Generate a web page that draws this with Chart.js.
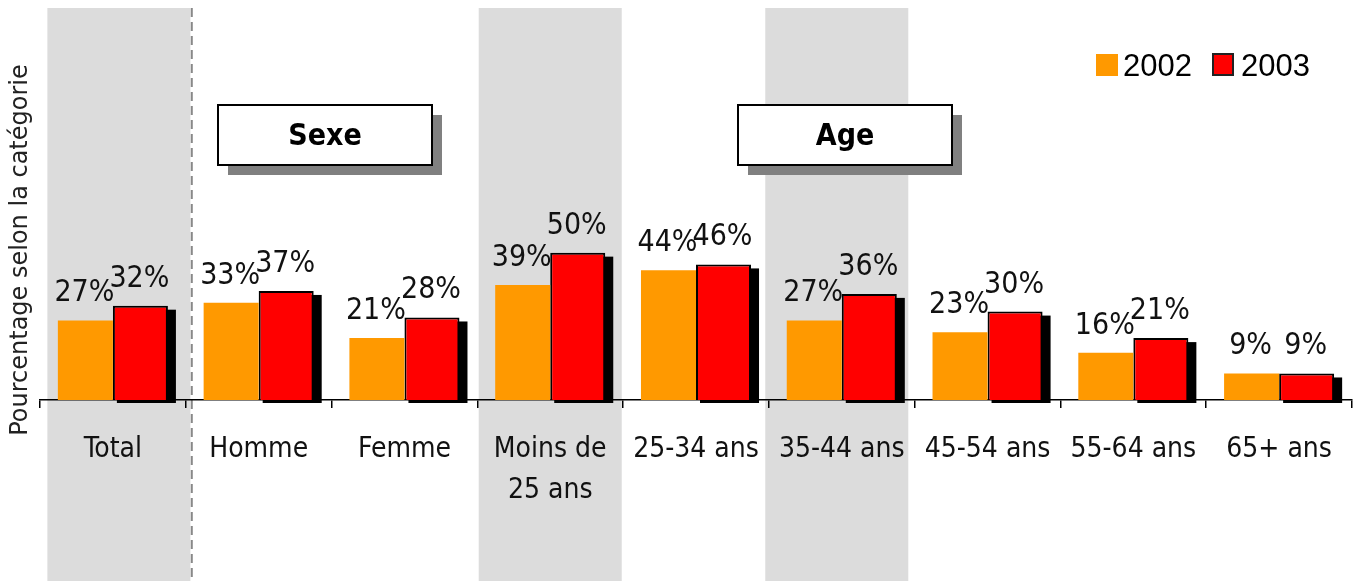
<!DOCTYPE html>
<html>
<head>
<meta charset="utf-8">
<script src="https://cdn.jsdelivr.net/npm/chart.js@4/dist/chart.umd.min.js"></script>
<style>
	html, body { margin: 0; padding: 0; background: #fff; }
	canvas { display: block; }
</style>
</head>
<body>
<canvas id="myChart" width="1357" height="581"></canvas>
<script>
// données
const categories = ['Total', 'Homme', 'Femme', ['Moins de', '25 ans'], '25-34 ans', '35-44 ans', '45-54 ans', '55-64 ans', '65+ ans'];
const values2002 = [27, 33, 21, 39, 44, 27, 23, 16, 9];
const values2003 = [32, 37, 28, 50, 46, 36, 30, 21, 9];
const seriesLabels = ['2002', '2003'];
const shadedCategories = [0, 3, 5];
const groupTitles = ['Sexe', 'Age'];

const condensed = '"DejaVu Sans Condensed", "Liberation Sans Narrow", "DejaVu Sans", sans-serif';

// bandes grises + ligne pointillée
const backgroundPlugin = {
	id: 'background',
	beforeDraw(chart) {
		const ctx = chart.ctx;
		const area = chart.chartArea;
		const xs = chart.scales.x;
		const catW = (area.right - area.left) / categories.length;
		const shifts = [6, 0, -5];
		ctx.save();
		ctx.fillStyle = '#dcdcdc';
		shadedCategories.forEach((i, k) => {
			const c = xs.getPixelForValue(i) + shifts[k];
			ctx.fillRect(c - 71.5, area.top, 143, chart.height - area.top);
		});
		// séparateur Total / reste
		const sepX = area.left + catW + 6;
		ctx.strokeStyle = '#888';
		ctx.lineWidth = 2;
		ctx.setLineDash([9, 5]);
		ctx.beginPath();
		ctx.moveTo(sepX, area.top);
		ctx.lineTo(sepX, chart.height);
		ctx.stroke();
		ctx.restore();
	}
};

// ombre noire derrière les barres 2003
const shadowPlugin = {
	id: 'shadow',
	beforeDatasetsDraw(chart) {
		const ctx = chart.ctx;
		const meta = chart.getDatasetMeta(1);
		ctx.save();
		ctx.fillStyle = '#000';
		meta.data.forEach(bar => {
			const left = bar.x - bar.width / 2 + 4;
			const right = bar.x + bar.width / 2 + 8;
			ctx.fillRect(left, bar.y + 4, right - left, bar.base + 3 - (bar.y + 4));
		});
		ctx.restore();
	}
};

// étiquettes de valeurs
const valueLabelPlugin = {
	id: 'valueLabels',
	afterDatasetsDraw(chart) {
		const ctx = chart.ctx;
		ctx.save();
		ctx.font = '30px ' + condensed;
		ctx.fillStyle = '#111';
		ctx.textAlign = 'center';
		ctx.textBaseline = 'alphabetic';
		chart.data.datasets.forEach((ds, di) => {
			chart.getDatasetMeta(di).data.forEach((bar, i) => {
				ctx.fillText(ds.data[i] + '%', bar.x - 1, bar.y - 19);
			});
		});
		ctx.restore();
	}
};

// cadres Sexe / Age, légende, titre de l'axe
const annotationPlugin = {
	id: 'annotations',
	afterDraw(chart) {
		const ctx = chart.ctx;
		const area = chart.chartArea;
		ctx.save();

		const boxLeft = [area.left + 178, area.left + 698];
		groupTitles.forEach((t, i) => {
			const x = boxLeft[i], y = 105, w = 214, h = 60;
			ctx.fillStyle = '#808080';
			ctx.fillRect(x + 10, y + 10, w, h);
			ctx.fillStyle = '#fff';
			ctx.fillRect(x, y, w, h);
			ctx.strokeStyle = '#000';
			ctx.lineWidth = 2;
			ctx.strokeRect(x, y, w, h);
			ctx.fillStyle = '#000';
			ctx.font = 'bold 30px ' + condensed;
			ctx.textAlign = 'center';
			ctx.textBaseline = 'middle';
			ctx.fillText(t, x + w / 2, y + h / 2 + 2);
		});

		// légende
		const items = [{ bx: 1096, tx: 1123 }, { bx: 1212, tx: 1241 }];
		chart.data.datasets.forEach((ds, i) => {
			const it = items[i];
			ctx.fillStyle = ds.backgroundColor;
			ctx.fillRect(it.bx, 54, 22, 22);
			if (ds.borderWidth) {
				ctx.strokeStyle = '#222';
				ctx.lineWidth = 2;
				ctx.strokeRect(it.bx + 1, 54, 20, 21);
			}
			ctx.fillStyle = '#000';
			ctx.font = '31px "Liberation Sans", Arial, sans-serif';
			ctx.textAlign = 'left';
			ctx.textBaseline = 'alphabetic';
			ctx.fillText(ds.label, it.tx, 76);
		});

		// titre vertical
		ctx.translate(21, 250);
		ctx.rotate(-Math.PI / 2);
		ctx.fillStyle = '#222';
		ctx.font = '24px "DejaVu Sans", sans-serif';
		ctx.textAlign = 'center';
		ctx.textBaseline = 'middle';
		ctx.fillText('Pourcentage selon la catégorie', 0, 0);
		ctx.restore();
	}
};

const ctx = document.getElementById('myChart').getContext('2d');
const myChart = new Chart(ctx, {
	type: 'bar',
	data: {
		labels: categories,
		datasets: [
			{
				label: seriesLabels[0],
				data: values2002,
				backgroundColor: '#ff9900',
				borderWidth: 0
			},
			{
				label: seriesLabels[1],
				data: values2003,
				backgroundColor: '#ff0000',
				borderColor: '#000',
				borderWidth: 2
			}
		]
	},
	options: {
		responsive: false,
		animation: false,
		devicePixelRatio: 1,
		categoryPercentage: 0.755,
		barPercentage: 1.0,
		layout: {
			padding: { left: 40, right: 5, top: 8, bottom: 0 }
		},
		plugins: {
			legend: { display: false },
			tooltip: { enabled: false }
		},
		scales: {
			x: {
				grid: {
					offset: true,
					drawOnChartArea: false,
					drawTicks: true,
					tickLength: 8,
					color: '#000',
					lineWidth: 1.5
				},
				border: { color: '#000', width: 1.5 },
				ticks: {
					color: '#111',
					font: { size: 28, family: condensed, lineHeight: 1.46 },
					padding: 21,
					maxRotation: 0,
					autoSkip: false
				},
				afterFit(scale) {
					scale.height = 181;
				}
			},
			y: {
				display: false,
				min: 0,
				max: 133
			}
		}
	},
	plugins: [backgroundPlugin, shadowPlugin, valueLabelPlugin, annotationPlugin]
});
</script>
</body>
</html>
